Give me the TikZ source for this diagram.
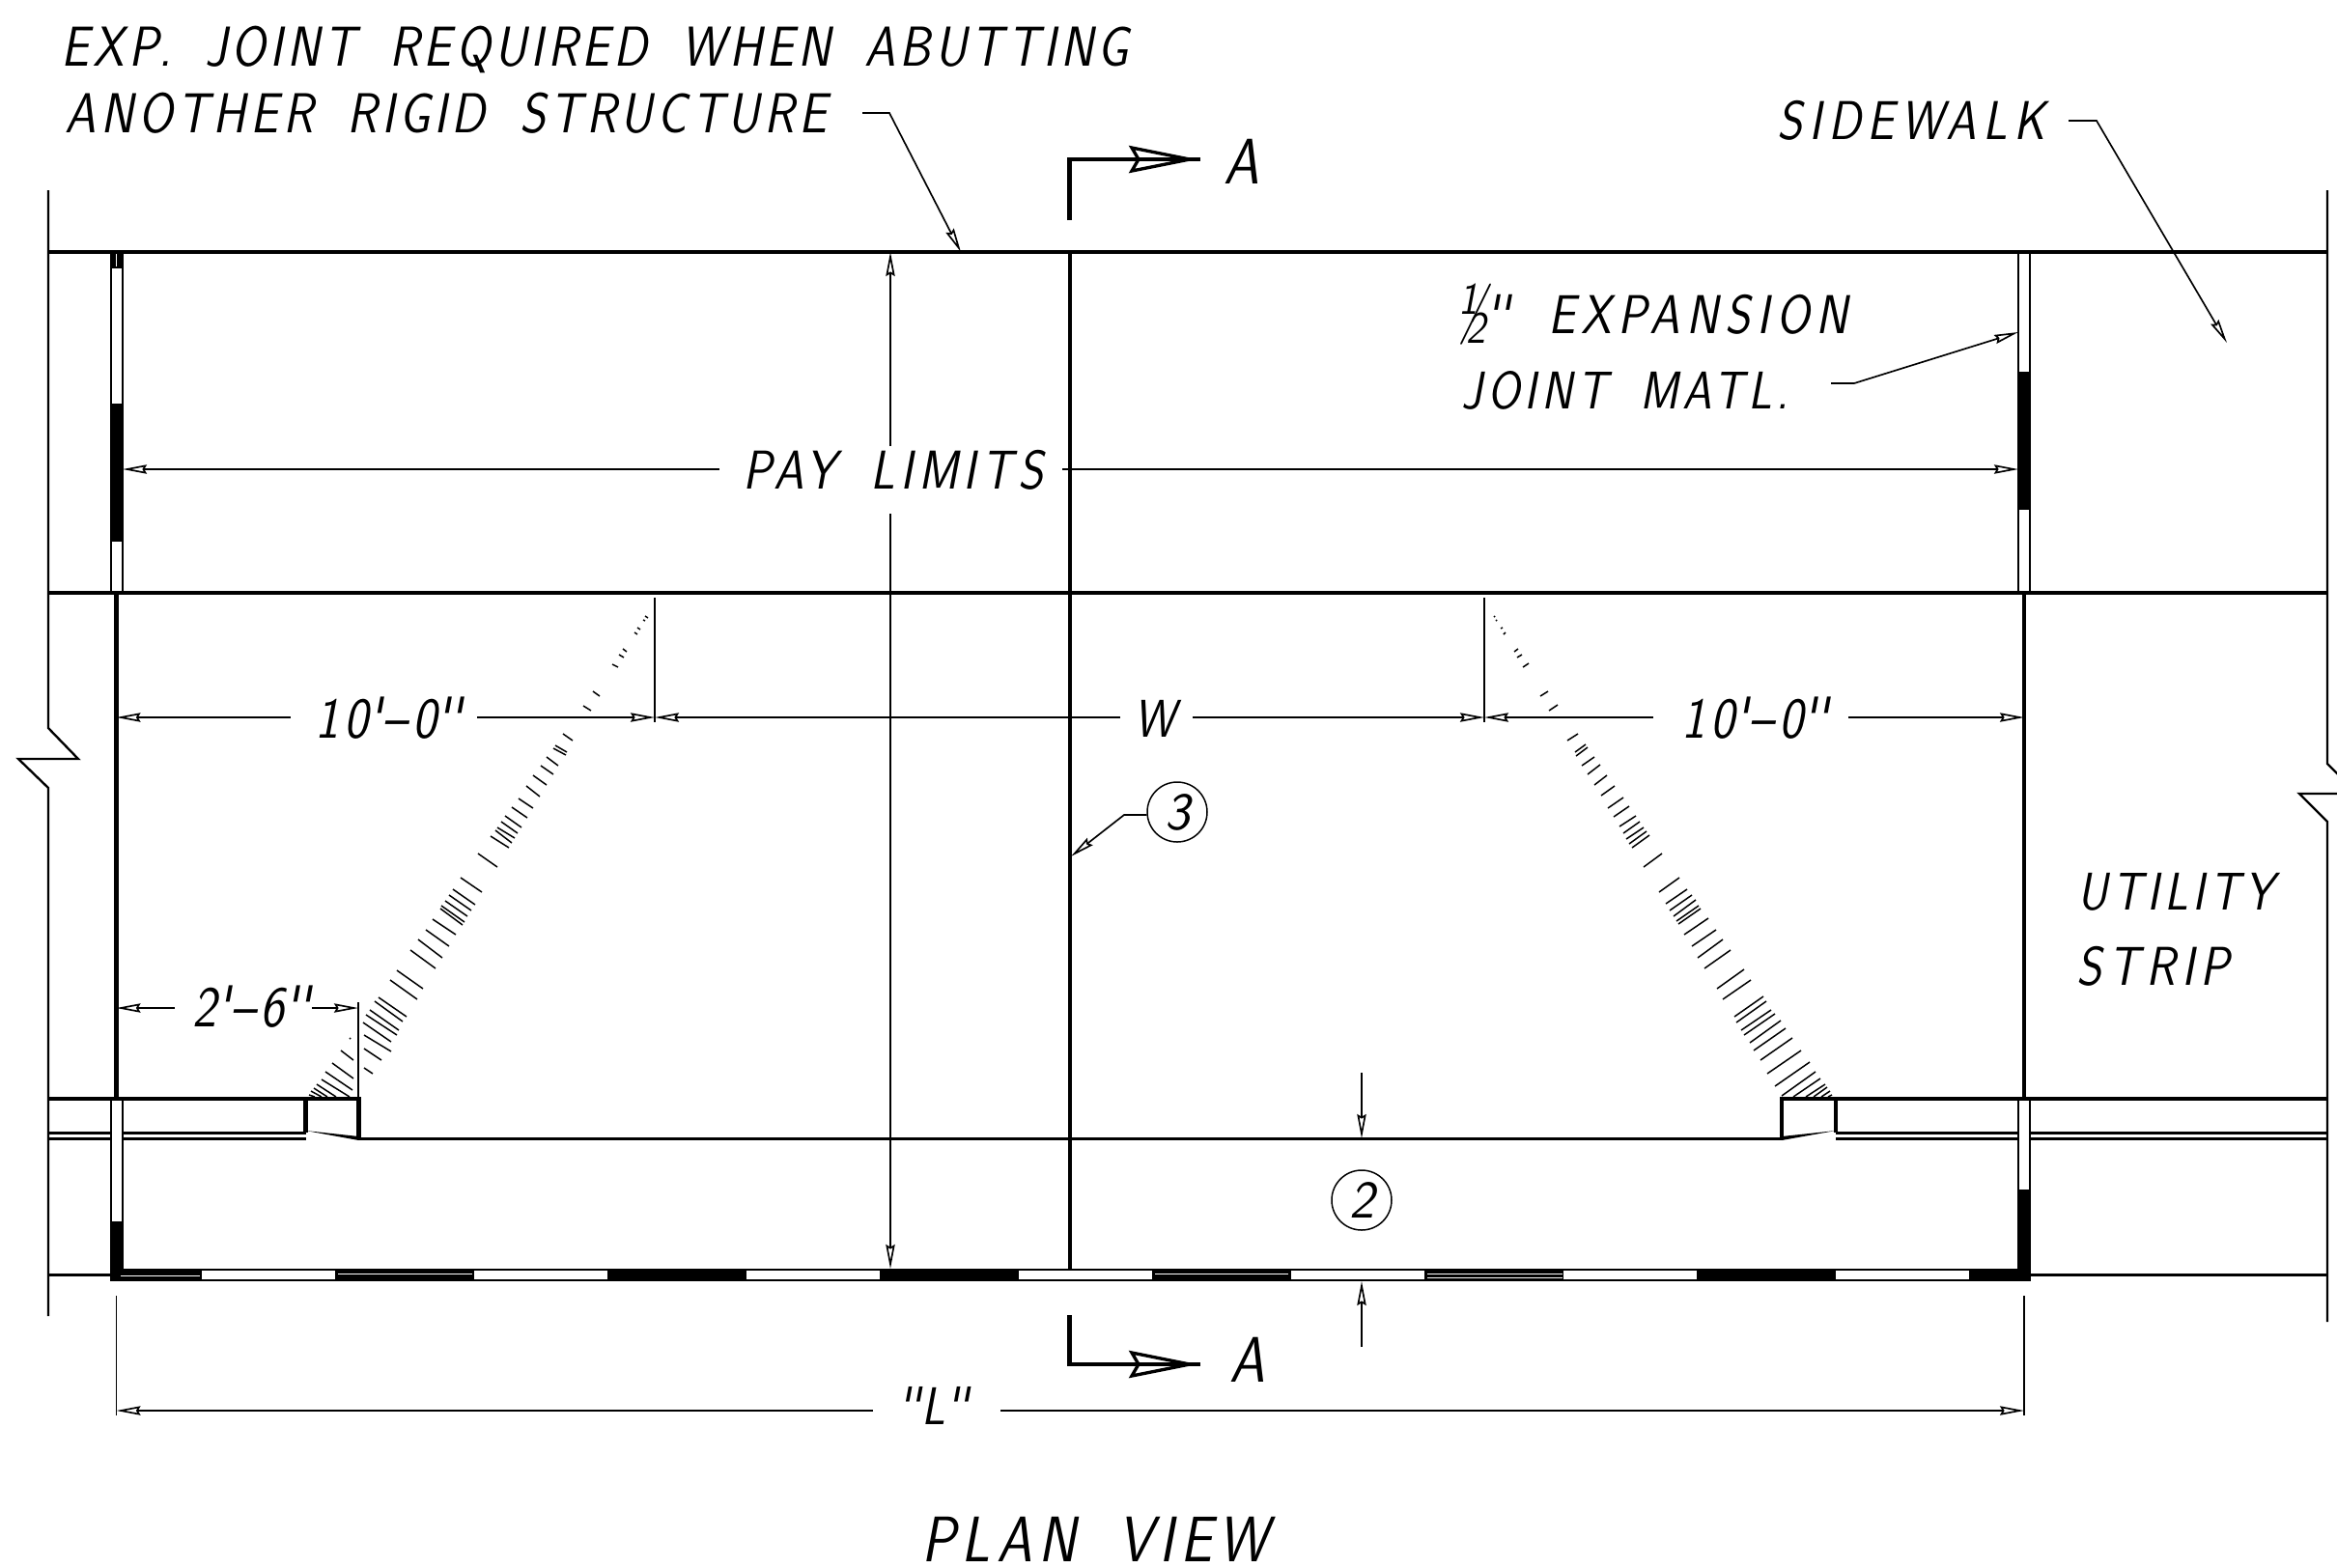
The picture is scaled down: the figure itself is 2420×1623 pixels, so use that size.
\documentclass[tikz,border=0pt]{standalone}
\usepackage{fontspec}
\setmainfont{Latin Modern Sans}[WordSpace=1.7]
\usetikzlibrary{arrows.meta}
\newcommand{\cadfont}[2]{\fontsize{#1}{#1}\selectfont\itshape\addfontfeatures{FakeStretch=0.88,LetterSpace=#2}}
\newcommand{\ftmark}{\textquotesingle}
\newcommand{\inmark}{\textquotesingle\kern-1pt\textquotesingle}
\newcommand{\halfmark}{\raisebox{6pt}{\fontsize{14}{14}\selectfont 1}\kern-5.5pt\raisebox{1pt}{\fontsize{19}{19}\selectfont /}\kern-6pt\raisebox{-3pt}{\fontsize{14}{14}\selectfont 2}}

\begin{document}
\begin{tikzpicture}
[x=0.3pt,y=-0.3pt,
 heavy/.style={line width=1.3pt,line cap=butt},
 medium/.style={line width=0.9pt},
 edgeline/.style={line width=0.7pt},
 thin line/.style={line width=0.5pt},
 dimtip/.style={-{Stealth[open,length=7.5pt,width=2.8pt,inset=0.8pt,line width=0.5pt]}},
 dimto/.style={line width=0.55pt,dimtip},
 leader/.style={thin line,dimtip},
 ext/.style={line width=0.45pt},
 jointwall/.style={line width=0.6pt},
 hatchline/.style={line width=0.45pt},
 txt/.style={inner sep=0pt,font=\cadfont{16.5}{9}},
 dimtxt/.style={inner sep=0pt,font=\cadfont{18}{9}},
 bigtxt/.style={inner sep=0pt,font=\cadfont{20}{10}},
 bubble/.style={circle,draw,line width=0.45pt,inner sep=0pt,minimum size=18.6pt,font=\fontsize{16.5}{16.5}\selectfont\itshape}]

\clip (0,0) rectangle (2420,1623);

% slab lines
\draw [heavy] (50,261) -- (2410,261);
\draw [heavy] (50,614) -- (2410,614);
\draw [heavy] (120.5,614) -- (120.5,1138);
\draw [heavy] (2096,614) -- (2096,1138);
\draw [heavy] (1108,261) -- (1108,1314);

% section limits with breaks
\draw [edgeline] (50,197) -- (50,754) -- (81,786) -- (19,786) -- (50,816) -- (50,1363);
\draw [edgeline] (2410,197) -- (2410,791) -- (2441,822) -- (2381,822) -- (2410,851) -- (2410,1369);

% curb and gutter
\draw [heavy] (50,1138) -- (316.5,1138);
\draw [heavy] (1845,1138) -- (2410,1138);
\draw [medium] (50,1173) -- (316.5,1173);
\draw [medium] (1901,1173) -- (2410,1173);
\draw [medium] (50,1179) -- (316.5,1179);
\draw [medium] (371,1179) -- (1845,1179);
\draw [medium] (1901,1179) -- (2410,1179);
\draw [medium] (50,1320) -- (115,1320);
\draw [medium] (2102,1320) -- (2410,1320);
\draw [heavy,line join=miter] (316.5,1173) -- (316.5,1138) -- (371.4,1138) -- (371.4,1179);
\draw [heavy,line join=miter] (1845,1179) -- (1845,1138) -- (1901,1138) -- (1901,1173);
\fill (316.5,1171) -- (371.4,1177) -- (371.4,1181) -- cycle;
\fill (1901,1171) -- (1845,1177) -- (1845,1181) -- cycle;

% joints
\foreach \jx in {115,2090} {
  \fill [white] (\jx,263) rectangle (\jx+12,612);
  \fill [white] (\jx,1140) rectangle (\jx+12,1327);
  \draw [jointwall] (\jx,261) -- (\jx,614);
  \draw [jointwall] (\jx+12,261) -- (\jx+12,614);
  \draw [jointwall] (\jx,1138) -- (\jx,1327);
  \draw [jointwall] (\jx+12,1138) -- (\jx+12,1327);
}
\fill (115,261) rectangle (127,278);
\draw [white,line width=0.25pt] (120,263) -- (120,276);
\fill (115,418) rectangle (127,561);
\fill (2090,385) rectangle (2102,528);
\fill (115,1265) rectangle (127,1327);
\fill (2090,1232) rectangle (2102,1327);

% bottom edge
\fill (115,1314) rectangle (2102,1327);
\foreach \wx in {209,491,773,1055,1337,1619,1901}
  \fill [white] (\wx,1316) rectangle (\wx+138,1325);
\foreach \lx/\ly/\le in {125/1321/207,350/1319/489,1196/1319/1334,1478/1319/1618,1478/1323/1618}
  \draw [white,line width=0.2pt] (\lx,\ly) -- (\le,\ly);

% left ramp hatching
\foreach \xa/\ya/\xb/\yb in {
  668/638/671/640,666/642/668/643,660/650/663/652,657/655/660/657,645/672/649/675,641/678/646/681,
  634/688/640/691,614/716/621/721,604/731/612/736,583/760/593/767,575/772/587/779,573/775/586/782,
  566/784/578/793,560/793/573/802,552/803/566/813,545/814/559/825,537/827/552/837,530/836/546/847,
  523/845/540/857,519/851/536/863,515/857/533/868,513/860/530/873,508/866/527/878,495/884/515/898,
  477/909/499/924,469/921/492/937,465/927/488/943,461/933/484/949,457/938/481/955,456/941/479/958,
  448/952/472/968,441/963/465/980,433/973/458/992,425/984/451/1003,411/1005/438/1024,404/1015/432/1035,
  392/1033/421/1053,388/1037/417/1058,383/1046/413/1067,379/1051/411/1072,376/1059/405/1079,
  377/1072/405/1089,377/1086/395/1098,377/1106/386/1112,
  362/1075/363/1076,353/1088/366/1098,344/1101/366/1117,337/1110/365/1129,333/1118/362/1136,
  328/1123/348/1136,325/1127/339/1136,322/1130/333/1136,320/1134/326/1136}
  \draw [hatchline] (\xa,\ya) -- (\xb,\yb);

% right ramp hatching
\foreach \xa/\ya/\xb/\yb in {
  1547/638/1548/639,1549/642/1550/643,1554/651/1556/650,1557/657/1559/655,1568/675/1572/672,
  1571/681/1576/678,1577/691/1583/687,1595/721/1603/716,1604/736/1613/730,1623/767/1634/760,
  1631/779/1642/771,1632/783/1644/774,1638/793/1651/784,1644/802/1657/792,1651/813/1664/803,
  1658/824/1672/814,1665/837/1681/826,1671/846/1687/835,1677/856/1694/845,1681/863/1698/851,
  1684/869/1702/857,1687/874/1705/861,1690/878/1708/865,1702/898/1721/884,1718/924/1739/909,
  1725/936/1747/921,1729/943/1752/927,1733/949/1756/932,1736/954/1759/938,1738/957/1761/941,
  1744/968/1769/951,1752/980/1777/963,1758/992/1784/973,1765/1003/1792/984,1778/1024/1806/1004,
  1784/1035/1813/1015,1796/1053/1826/1032,1798/1059/1829/1037,1803/1067/1834/1046,1806/1072/1838/1050,
  1812/1080/1844/1057,1816/1088/1849/1065,1823/1098/1856/1075,1830/1112/1865/1088,1838/1125/1874/1100,
  1845/1135/1880/1110,1857/1136/1885/1117,1870/1136/1890/1123,1878/1136/1892/1126,1886/1136/1895/1130,
  1893/1136/1897/1134}
  \draw [hatchline] (\xa,\ya) -- (\xb,\yb);

% extension lines
\draw [ext] (371,1038) -- (371,1138);
\draw [ext] (678,619) -- (678,748);
\draw [ext] (1537,619) -- (1537,748);
\draw [ext] (120.5,1342) -- (120.5,1466);
\draw [ext] (2096,1342) -- (2096,1466);

% pay limits
\node (paylimits) [txt,font=\cadfont{17}{10}] at (925,487) {PAY LIMITS};
\draw [dimto] (745,486) -- (127,486);
\draw [dimto] (1100,486) -- (2090,486);
\draw [dimto] (922,462) -- (922,261);
\draw [dimto] (922,532) -- (922,1314);

% width dimensions
\node (tenleft) [dimtxt] at (403,744) {10\ftmark--0\inmark};
\node (tenright) [dimtxt] at (1818,744) {10\ftmark--0\inmark};
\node (widthw) [txt] at (1196,744) {W};
\draw [dimto] (301,743) -- (120.5,743);
\draw [dimto] (494,743) -- (678,743);
\draw [dimto] (1160,743) -- (678,743);
\draw [dimto] (1235,743) -- (1537,743);
\draw [dimto] (1712,743) -- (1537,743);
\draw [dimto] (1914,743) -- (2096,743);
\node (taper) [dimtxt] at (261,1043) {2\ftmark--6\inmark};
\draw [dimto] (181,1044) -- (120.5,1044);
\draw [dimto] (323,1044) -- (371,1044);

% gutter width and length
\draw [dimto] (1410,1111) -- (1410,1179);
\draw [dimto] (1410,1395) -- (1410,1327);
\node (lengthl) [txt] at (967,1456) {\inmark L\inmark};
\draw [dimto] (904,1461) -- (120.5,1461);
\draw [dimto] (1036,1461) -- (2096,1461);

% section marks
\foreach \sy/\sa/\sb in {165/228/165,1413/1362/1413} {
  \draw [line width=1.4pt,line join=miter] (1107.6,\sa) -- (1107.6,\sb) -- (1243,\sb);
  \draw [line width=1pt,line join=miter] (1232,\sy) -- (1172,\sy-12) -- (1179,\sy) -- (1172,\sy+12) -- cycle;
}
\node (seca) [bigtxt] at (1286,167) {A};
\node (secb) [bigtxt] at (1292,1408) {A};

% notes
\node (note1) [txt,anchor=west,font=\cadfont{17.5}{7.5}] at (63,51) {EXP. JOINT REQUIRED WHEN ABUTTING};
\node (note2) [txt,anchor=west,font=\cadfont{17.5}{8}] at (67,117) {ANOTHER RIGID STRUCTURE};
\draw [leader] (893,117) -- (921,117) -- (995,261);
\node (sidewalk) [txt,anchor=west,font=\cadfont{17}{12}] at (1840,125) {SIDEWALK};
\draw [leader] (2142,125) -- (2171,125) -- (2306,355);
\node (expjoint) [txt,anchor=base west,font=\cadfont{17}{12}] at (1510,345) {\halfmark\inmark\ EXPANSION};
\node (expmatl) [txt,anchor=base west] at (1513,423) {JOINT MATL.};
\draw [leader] (1896,397) -- (1920,397) -- (2090,344);
\node (utility) [txt,anchor=west] at (2151,924) {UTILITY};
\node (strip) [txt,anchor=west,font=\cadfont{17}{12}] at (2150,1001) {STRIP};

% bubbles
\node (bubble3) [bubble] at (1219,841) {3};
\node (bubble2) [bubble] at (1410,1243) {2};
\draw [leader] (bubble3.west |- 0,844) -- (1164,844) -- (1109,887);

\node (title) [bigtxt] at (1134,1594) {PLAN VIEW};
\end{tikzpicture}
\end{document}
